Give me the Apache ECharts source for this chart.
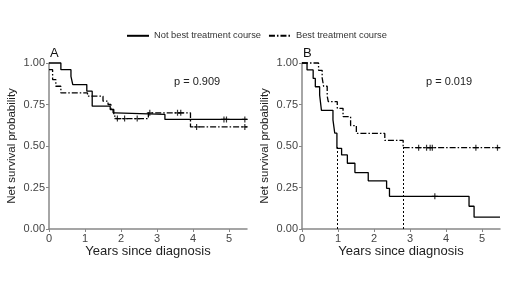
<!DOCTYPE html>
<html>
<head>
<meta charset="utf-8">
<script src="https://cdn.jsdelivr.net/npm/echarts@6/dist/echarts.min.js"></script>
<style>
  html, body { margin: 0; padding: 0; background: #fff; }
  #chart { width: 520px; height: 292px; }
</style>
</head>
<body>
<div id="chart"></div>
<script>
// groups
var groupNames = ['Not best treatment course', 'Best treatment course'];
var yearTicks = [0, 1, 2, 3, 4, 5];

// panel A, net survival steps (time in years, probability)
var aNotBestTime = [0, 0.33, 0.61, 0.66, 1.05, 1.2, 1.7, 1.78, 1.84, 3.22, 5.5];
var aNotBestProb = [1.0, 0.96, 0.92, 0.87, 0.83, 0.74, 0.72, 0.70, 0.69, 0.66, 0.66];
var aBestTime = [0, 0.1, 0.19, 0.33, 1.07, 1.5, 1.64, 1.72, 1.8, 1.86, 2.76, 3.93, 5.5];
var aBestProb = [0.96, 0.90, 0.86, 0.82, 0.80, 0.77, 0.75, 0.72, 0.68, 0.665, 0.70, 0.615, 0.615];
var aNotBestCensor = [4.86, 4.93, 5.44];
var aBestCensor = [1.9, 2.1, 2.45, 2.8, 3.57, 3.66, 4.1, 5.44];

// panel B
var bNotBestTime = [0, 0.14, 0.31, 0.37, 0.49, 0.54, 0.86, 0.91, 0.97, 1.1, 1.26, 1.47, 1.84, 2.35, 2.43, 4.64, 4.78, 5.5];
var bNotBestProb = [1.0, 0.958, 0.907, 0.857, 0.807, 0.715, 0.657, 0.577, 0.486, 0.446, 0.396, 0.34, 0.29, 0.245, 0.197, 0.137, 0.071, 0.071];
var bBestTime = [0, 0.46, 0.56, 0.6, 0.7, 0.73, 0.98, 1.14, 1.35, 1.51, 2.3, 2.81, 5.5];
var bBestProb = [1.0, 0.956, 0.91, 0.86, 0.80, 0.767, 0.727, 0.677, 0.623, 0.576, 0.534, 0.49, 0.49];
var bNotBestCensor = [3.69];
var bBestCensor = [3.24, 3.46, 3.56, 3.62, 4.83, 5.43];
var bMedianTimes = [0.97, 2.81];

var pValues = ['p = 0.909', 'p = 0.019'];
var panelLabels = ['A', 'B'];

function zip(t, p) {
    return t.map(function (x, i) { return [x, p[i]]; });
}
function stepAt(t, p, x) {
    var v = p[0];
    for (var i = 0; i < t.length; i++) { if (t[i] <= x) v = p[i]; }
    return v;
}
function censorPts(t, p, c) {
    return c.map(function (x) { return [x, stepAt(t, p, x)]; });
}

var font = '"Liberation Sans", Arial, sans-serif';
var dashDot = [6, 2, 1.5, 2];
var plus = 'path://M5,0V10M0,5H10';

function xAxisFor(i) {
    return {
        gridIndex: i, type: 'value', min: 0, max: 5.5,
        name: 'Years since diagnosis', nameLocation: 'middle', nameGap: 16,
        nameMoveOverlap: false,
        nameTextStyle: { fontFamily: font, fontSize: 13, color: '#222', verticalAlign: 'top' },
        axisLine: { show: true, lineStyle: { color: '#888', width: 1.5 } },
        axisTick: { show: true, length: 3, customValues: yearTicks, lineStyle: { color: '#888' } },
        axisLabel: { customValues: yearTicks, margin: 4, fontFamily: font, fontSize: 11, color: '#444' },
        splitLine: { show: false }
    };
}
function yAxisFor(i) {
    return {
        gridIndex: i, type: 'value', min: 0, max: 1, interval: 0.25,
        name: 'Net survival probability', nameLocation: 'middle', nameGap: 31,
        nameMoveOverlap: false,
        nameTextStyle: { fontFamily: font, fontSize: 11.5, color: '#222' },
        axisLine: { show: true, lineStyle: { color: '#888', width: 1.5 } },
        axisTick: { show: true, length: 3, lineStyle: { color: '#888' } },
        axisLabel: { margin: 4, fontFamily: font, fontSize: 11, color: '#444',
            formatter: function (v) { return v.toFixed(2); } },
        splitLine: { show: false }
    };
}
function curve(name, i, data, dashed) {
    return {
        name: name, type: 'line', step: 'end', symbol: 'none', clip: false,
        xAxisIndex: i, yAxisIndex: i, data: data,
        lineStyle: { color: '#000', width: 1.3, type: dashed ? dashDot : 'solid' },
        itemStyle: { color: '#000' }
    };
}
function censors(i, data) {
    return {
        type: 'scatter', xAxisIndex: i, yAxisIndex: i, data: data,
        symbol: plus, symbolSize: 6, clip: false,
        itemStyle: { color: 'rgba(0,0,0,0)', borderColor: '#000', borderWidth: 1.2 }
    };
}

var bSolid = curve(groupNames[0], 1, zip(bNotBestTime, bNotBestProb), false);
bSolid.markLine = {
    silent: true, symbol: 'none', label: { show: false },
    lineStyle: { color: '#000', type: [2, 2], width: 1 },
    data: bMedianTimes.map(function (m) { return [{ coord: [m, 0] }, { coord: [m, 0.5] }]; })
};

var chart = echarts.init(document.getElementById('chart'));
chart.setOption({
    animation: false,
    backgroundColor: '#fff',
    legend: {
        data: groupNames, top: 26, left: 121, itemWidth: 22, itemHeight: 12, itemGap: 7,
        itemStyle: { opacity: 0 },
        textStyle: { fontFamily: font, fontSize: 9.3, color: '#333' }
    },
    title: [
        { text: panelLabels[0], left: 50, top: 47, textStyle: { fontFamily: font, fontSize: 13, fontWeight: 'normal', color: '#111' }, padding: 0 },
        { text: panelLabels[1], left: 303, top: 47, textStyle: { fontFamily: font, fontSize: 13, fontWeight: 'normal', color: '#111' }, padding: 0 },
        { text: pValues[0], left: 174, top: 76, textStyle: { fontFamily: font, fontSize: 11, fontWeight: 'normal', color: '#222' }, padding: 0 },
        { text: pValues[1], left: 426, top: 76, textStyle: { fontFamily: font, fontSize: 11, fontWeight: 'normal', color: '#222' }, padding: 0 }
    ],
    grid: [
        { left: 49, top: 63, width: 198, height: 166 },
        { left: 302, top: 63, width: 198, height: 166 }
    ],
    xAxis: [xAxisFor(0), xAxisFor(1)],
    yAxis: [yAxisFor(0), yAxisFor(1)],
    series: [
        curve(groupNames[0], 0, zip(aNotBestTime, aNotBestProb), false),
        curve(groupNames[1], 0, zip(aBestTime, aBestProb), true),
        censors(0, censorPts(aNotBestTime, aNotBestProb, aNotBestCensor)),
        censors(0, censorPts(aBestTime, aBestProb, aBestCensor)),
        bSolid,
        curve(groupNames[1], 1, zip(bBestTime, bBestProb), true),
        censors(1, censorPts(bNotBestTime, bNotBestProb, bNotBestCensor)),
        censors(1, censorPts(bBestTime, bBestProb, bBestCensor))
    ]
});
</script>
</body>
</html>
